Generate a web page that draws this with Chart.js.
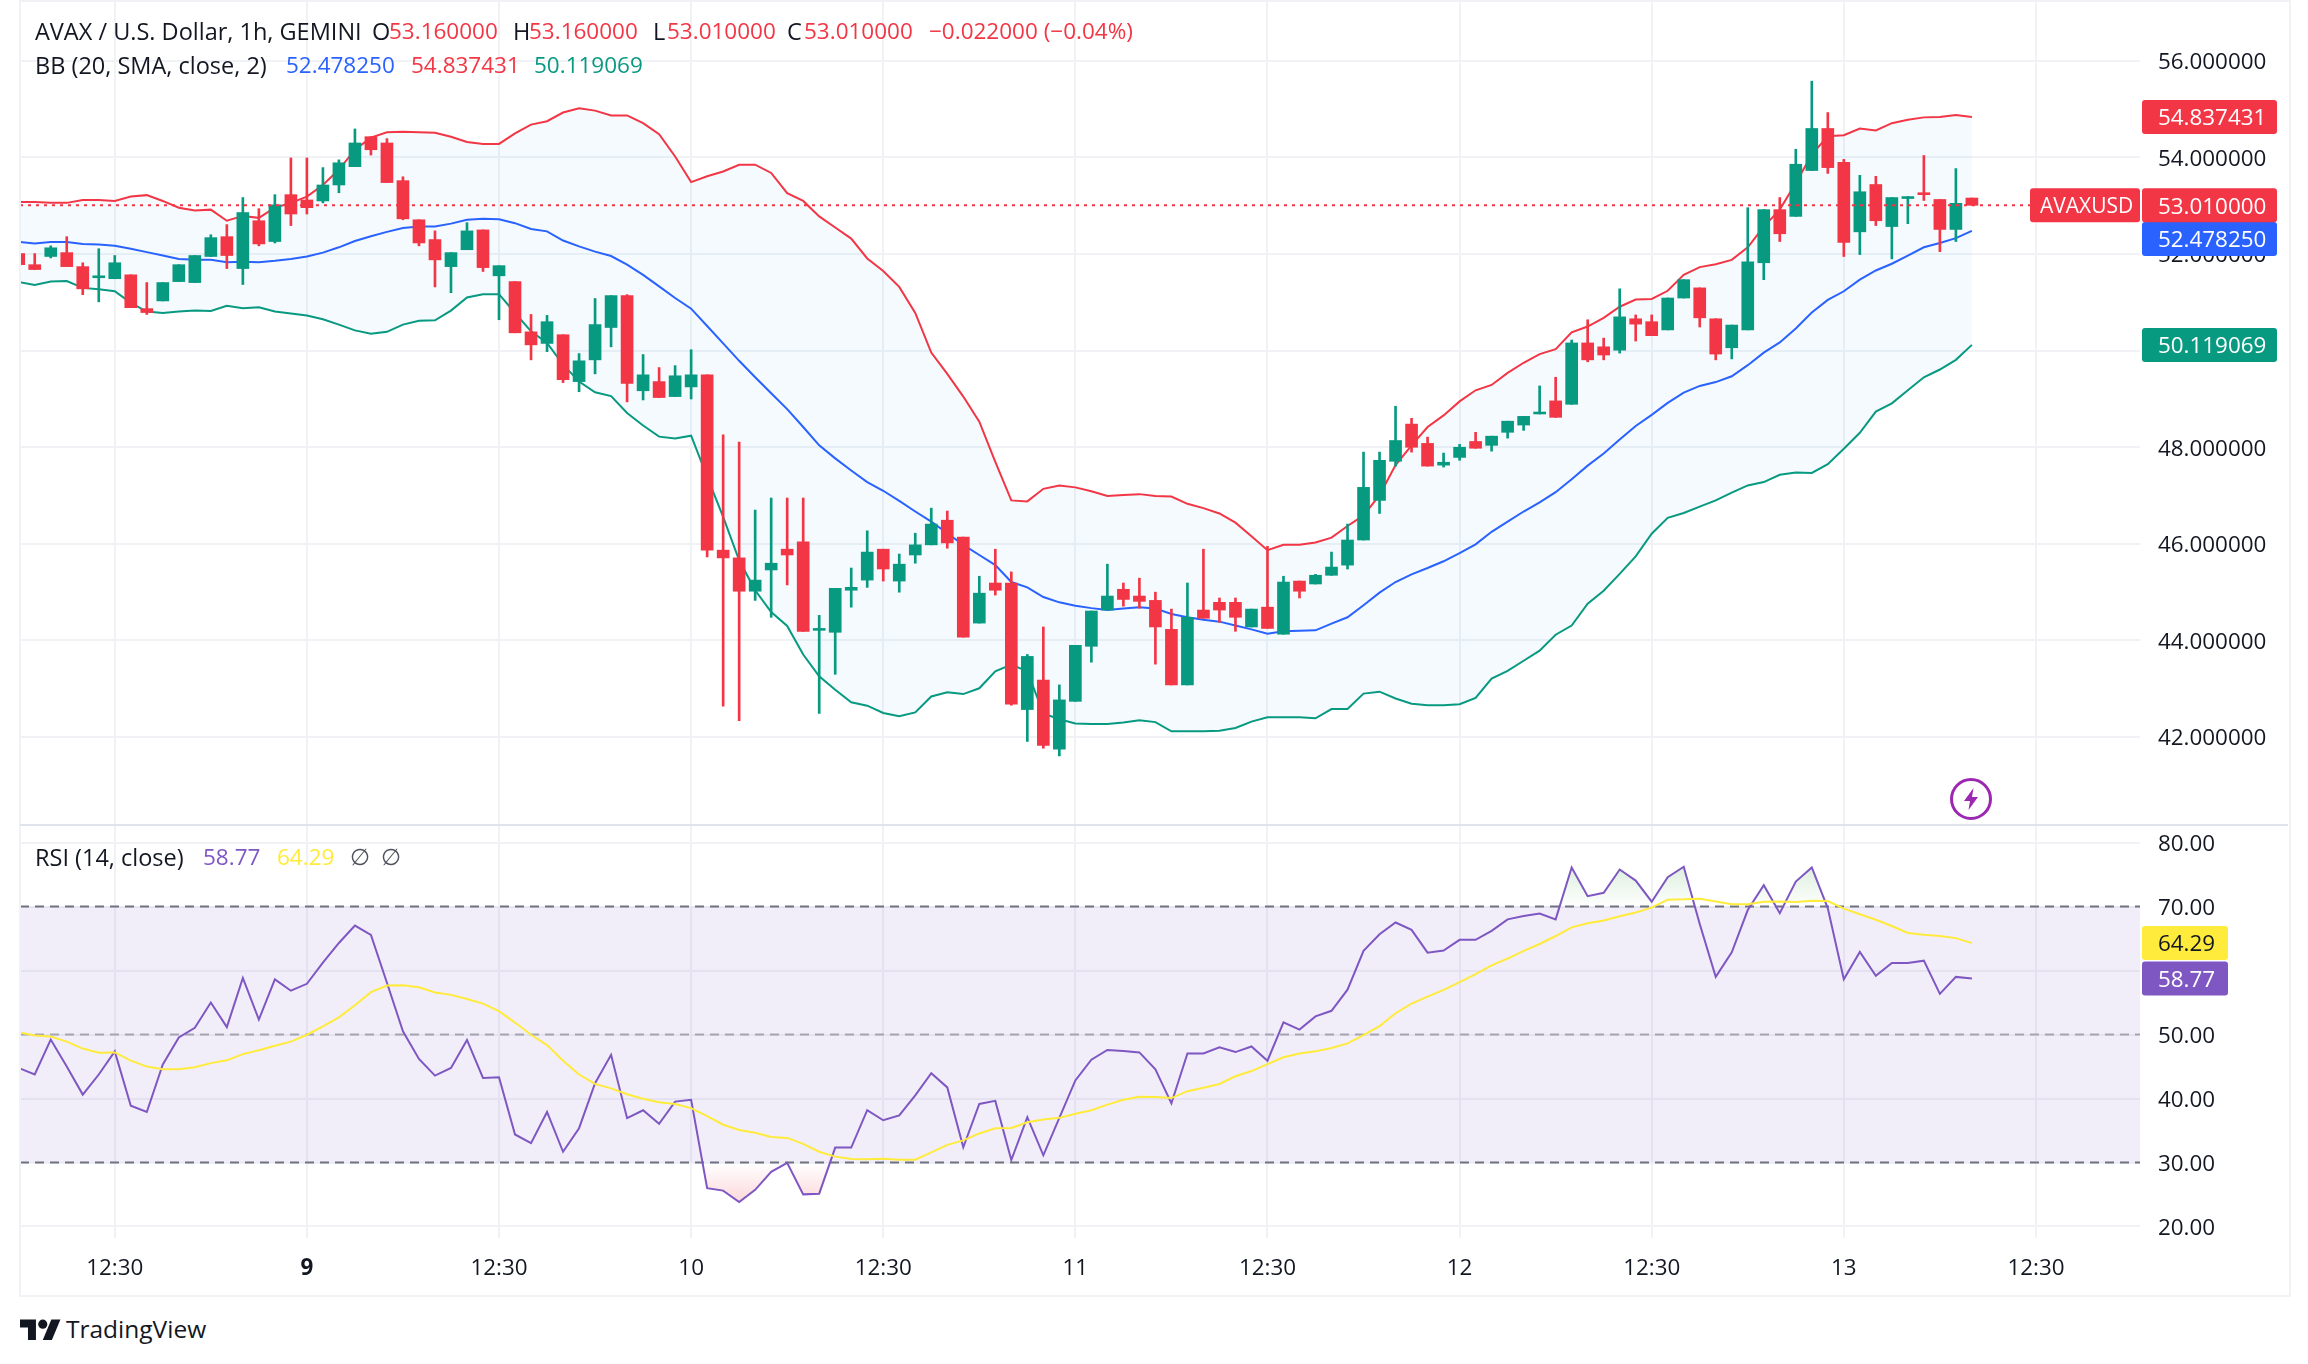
<!DOCTYPE html>
<html>
<head>
<meta charset="utf-8">
<title>AVAX / U.S. Dollar</title>
<script src="https://cdn.jsdelivr.net/npm/chart.js@4"></script>
<style>
  html, body { margin: 0; padding: 0; background: #fff; }
  #page { position: relative; width: 2308px; height: 1364px; overflow: hidden; font-family: "Open Sans", sans-serif; color: #131722; }
  canvas { position: absolute; left: 0; }
  #frame { position: absolute; left: 19px; top: 0; width: 2268px; height: 1293px; border: 2px solid #f0f2f6; pointer-events: none; }
  #divider { position: absolute; left: 20px; top: 824px; width: 2268px; height: 2px; background: #e0e3eb; }
  .t { position: absolute; font-size: 23.5px; line-height: 28px; white-space: nowrap; }
  .n { position: absolute; font-size: 22.5px; line-height: 28px; white-space: nowrap; }
</style>
</head>
<body>
<div id="page">
  <canvas id="mainChart" width="2308" height="825" style="top:0"></canvas>
  <canvas id="rsiChart" width="2308" height="470" style="top:825px"></canvas>
  <div id="frame"></div>
  <div id="divider"></div>

  <span class="t" style="left:35px;top:17px">AVAX / U.S. Dollar, 1h, GEMINI</span>
  <span class="t" style="left:372px;top:17px">O</span><span class="n" style="left:389px;top:17px;color:#f23645">53.160000</span>
  <span class="t" style="left:513px;top:17px">H</span><span class="n" style="left:529px;top:17px;color:#f23645">53.160000</span>
  <span class="t" style="left:653px;top:17px">L</span><span class="n" style="left:667px;top:17px;color:#f23645">53.010000</span>
  <span class="t" style="left:787px;top:17px">C</span><span class="n" style="left:804px;top:17px;color:#f23645">53.010000</span>
  <span class="n" style="left:929px;top:17px;color:#f23645">−0.022000 (−0.04%)</span>

  <span class="t" style="left:35px;top:51px">BB (20, SMA, close, 2)</span>
  <span class="n" style="left:286px;top:51px;color:#2962ff">52.478250</span>
  <span class="n" style="left:411px;top:51px;color:#f23645">54.837431</span>
  <span class="n" style="left:534px;top:51px;color:#089981">50.119069</span>

  <span class="t" style="left:35px;top:843px">RSI (14, close)</span>
  <span class="n" style="left:203px;top:843px;color:#7e57c2">58.77</span>
  <span class="n" style="left:277px;top:843px;color:#ffeb3b">64.29</span>
  <span class="n" style="left:350px;top:843px;color:#50535e">∅</span>
  <span class="n" style="left:381px;top:843px;color:#50535e">∅</span>

  <svg style="position:absolute;left:1949px;top:777px" width="44" height="44" viewBox="0 0 44 44">
    <circle cx="22" cy="22" r="19.5" fill="#fff" stroke="#9c27b0" stroke-width="3"/>
    <path d="M24.5 11 L15 24 H21 L19.5 33 L29 20 H23 Z" fill="#9c27b0"/>
  </svg>

  <svg style="position:absolute;left:20px;top:1315px" width="41" height="32" viewBox="0 0 36 28">
    <path d="M14 22H7V11H0V4h14v18zM28 22h-8l7.5-18h8L28 22z" fill="#131722"/>
    <circle cx="20" cy="8" r="4" fill="#131722"/>
  </svg>
  <span class="t" style="left:66px;top:1315px;font-size:24.5px">TradingView</span>
</div>

<script>
const opens = [
  52.01,51.78,51.95,52.03,51.74,51.51,51.49,51.57,50.87,51.03,
  51.43,51.41,51.95,52.36,51.70,52.69,52.26,53.23,53.12,53.10,
  53.43,53.81,54.43,54.30,53.52,52.71,52.30,51.74,52.09,52.50,
  51.55,51.43,50.39,50.15,50.33,49.36,49.81,50.48,51.14,49.17,
  49.36,49.05,49.25,49.50,45.87,45.71,45.02,45.46,45.89,46.04,
  44.21,44.17,45.04,45.25,45.89,45.23,45.77,45.98,46.49,46.14,
  44.36,45.19,45.19,42.57,43.18,41.75,42.74,43.88,44.63,45.06,
  44.92,44.83,44.23,43.08,44.63,44.79,44.79,44.28,44.69,44.13,
  45.23,45.17,45.35,45.56,46.08,46.90,47.71,48.48,48.08,47.63,
  47.79,48.12,48.04,48.31,48.46,48.69,48.96,48.89,50.16,50.08,
  50.01,50.66,50.60,50.43,51.09,51.30,50.66,50.06,50.43,51.82,
  52.92,52.78,53.73,54.60,53.90,52.46,53.44,52.57,53.15,53.27,
  53.13,52.51,53.16
];
const highs = [
  52.01,52.01,52.17,52.36,51.82,52.11,51.97,51.57,51.41,51.41,
  51.78,51.97,52.40,52.61,53.17,52.94,53.23,53.99,53.99,53.79,
  53.95,54.59,54.43,54.39,53.60,52.71,52.48,52.03,52.65,52.50,
  51.76,51.43,50.75,50.73,50.33,49.94,51.08,51.14,51.16,49.92,
  49.65,49.69,50.02,49.50,48.26,48.11,46.70,46.95,46.95,46.95,
  44.52,45.08,45.50,46.27,45.89,45.79,46.22,46.74,46.68,46.14,
  45.33,45.89,45.42,43.71,44.28,43.08,43.90,44.61,45.58,45.19,
  45.29,45.00,44.65,45.19,45.89,44.88,44.88,44.65,45.95,45.33,
  45.23,45.37,45.83,46.41,47.90,47.90,48.85,48.60,48.21,47.88,
  48.06,48.31,48.23,48.54,48.64,49.27,49.45,50.22,50.64,50.26,
  51.28,50.74,50.74,51.09,51.47,51.30,50.66,50.53,52.96,52.92,
  53.17,54.17,55.58,54.93,53.96,53.63,53.61,53.17,53.19,54.04,
  53.13,53.77,53.16
];
const lows = [
  51.78,51.68,51.92,51.74,51.16,51.01,51.49,50.89,50.75,51.03,
  51.43,51.41,51.95,51.70,51.37,52.17,52.23,52.59,52.83,53.06,
  53.27,53.81,54.05,53.48,52.71,52.17,51.32,51.20,52.09,51.64,
  50.64,50.37,49.81,49.98,49.34,49.15,49.52,50.08,48.94,48.98,
  49.03,49.05,49.00,45.73,42.64,42.34,44.83,44.48,45.15,44.19,
  42.49,43.30,44.69,45.10,45.23,45.00,45.60,45.98,45.91,44.07,
  44.36,44.94,42.66,41.91,41.77,41.61,42.74,43.55,44.63,44.71,
  44.67,43.51,43.08,43.08,44.46,44.38,44.19,44.28,44.25,44.13,
  44.88,45.17,45.35,45.48,46.08,46.63,47.61,47.90,47.61,47.59,
  47.73,47.98,47.92,48.19,48.35,48.69,48.62,48.89,49.77,49.81,
  49.95,50.20,50.31,50.43,51.09,50.49,49.81,49.83,50.43,51.47,
  52.26,52.78,53.73,53.67,51.95,51.99,52.59,51.90,52.63,53.11,
  52.05,52.26,53.01
];
const closes = [
  51.78,51.68,52.13,51.74,51.28,51.55,51.82,50.89,50.79,51.41,
  51.78,51.97,52.34,51.97,52.86,52.21,53.02,52.83,52.96,53.43,
  53.89,54.30,54.16,53.48,52.73,52.23,51.88,52.03,52.48,51.72,
  51.76,50.37,50.12,50.60,49.40,49.79,50.54,51.14,49.32,49.50,
  49.03,49.48,49.50,45.87,45.71,45.02,45.25,45.60,45.77,44.19,
  44.25,45.08,45.10,45.83,45.48,45.58,45.98,46.41,46.02,44.07,
  44.98,45.04,42.68,43.67,41.83,42.77,43.90,44.61,44.92,44.85,
  44.81,44.28,43.08,44.48,44.46,44.63,44.48,44.65,44.25,45.21,
  45.02,45.35,45.52,46.08,47.17,47.73,48.14,48.00,47.61,47.69,
  48.00,47.98,48.23,48.54,48.64,48.73,48.62,50.16,49.81,49.91,
  50.70,50.55,50.31,51.09,51.47,50.68,49.93,50.53,51.84,52.92,
  52.42,53.86,54.60,53.79,52.24,53.29,52.69,53.17,53.19,53.23,
  52.51,53.05,53.01
];
const bbUpper = [
  53.08,53.08,53.06,53.06,53.12,53.12,53.10,53.19,53.22,53.10,
  52.96,52.90,52.92,52.69,52.79,52.75,52.96,53.06,53.19,53.43,
  53.75,54.16,54.41,54.52,54.53,54.52,54.51,54.43,54.32,54.28,
  54.28,54.50,54.68,54.75,54.93,55.02,54.97,54.87,54.87,54.71,
  54.48,54.02,53.49,53.61,53.71,53.85,53.85,53.68,53.26,53.10,
  52.78,52.55,52.32,51.91,51.65,51.32,50.78,49.96,49.52,49.05,
  48.53,47.70,46.90,46.88,47.14,47.21,47.17,47.09,46.99,47.01,
  47.03,46.99,46.98,46.83,46.74,46.63,46.44,46.16,45.87,45.98,
  45.98,46.03,46.13,46.37,46.59,47.01,47.63,48.04,48.42,48.66,
  48.95,49.18,49.29,49.54,49.75,49.93,50.03,50.38,50.50,50.68,
  50.91,51.06,51.07,51.24,51.57,51.73,51.79,51.88,52.14,52.57,
  52.92,53.47,54.06,54.44,54.46,54.60,54.56,54.71,54.78,54.83,
  54.84,54.88,54.84
];
const bbBasis = [
  52.25,52.22,52.25,52.25,52.21,52.20,52.17,52.11,52.04,51.97,
  51.90,51.88,51.88,51.83,51.84,51.83,51.86,51.90,51.95,52.03,
  52.14,52.27,52.37,52.46,52.54,52.57,52.57,52.63,52.71,52.73,
  52.72,52.64,52.52,52.47,52.28,52.16,52.05,51.96,51.78,51.57,
  51.33,51.09,50.87,50.51,50.15,49.79,49.45,49.12,48.79,48.42,
  48.04,47.77,47.52,47.28,47.10,46.89,46.67,46.46,46.22,45.98,
  45.77,45.56,45.21,45.10,44.90,44.79,44.72,44.67,44.63,44.66,
  44.69,44.66,44.55,44.48,44.43,44.39,44.31,44.23,44.14,44.19,
  44.20,44.21,44.35,44.48,44.73,44.99,45.21,45.37,45.50,45.64,
  45.81,45.99,46.25,46.46,46.67,46.86,47.07,47.34,47.62,47.87,
  48.16,48.44,48.67,48.92,49.13,49.27,49.35,49.47,49.70,49.96,
  50.17,50.46,50.79,51.05,51.23,51.47,51.66,51.80,51.97,52.14,
  52.23,52.33,52.48
];
const bbLower = [
  51.42,51.36,51.43,51.44,51.30,51.27,51.23,50.99,50.81,50.78,
  50.81,50.83,50.82,50.93,50.88,50.90,50.81,50.77,50.73,50.65,
  50.54,50.42,50.35,50.39,50.54,50.62,50.63,50.83,51.10,51.17,
  51.17,50.78,50.40,50.16,49.71,49.36,49.14,49.06,48.71,48.45,
  48.22,48.18,48.24,47.39,46.56,45.66,45.04,44.59,44.30,43.71,
  43.26,42.98,42.72,42.65,42.50,42.43,42.51,42.84,42.93,42.89,
  43.01,43.36,43.50,43.36,42.49,42.37,42.28,42.27,42.27,42.30,
  42.35,42.31,42.12,42.12,42.12,42.13,42.19,42.32,42.41,42.41,
  42.41,42.39,42.58,42.58,42.90,42.94,42.80,42.69,42.66,42.66,
  42.68,42.81,43.21,43.37,43.58,43.79,44.12,44.31,44.76,45.03,
  45.38,45.74,46.21,46.54,46.64,46.77,46.90,47.06,47.21,47.28,
  47.43,47.48,47.47,47.65,47.97,48.30,48.74,48.91,49.18,49.45,
  49.61,49.81,50.12
];
const rsiValues = [
  44.77,43.75,49.21,44.99,40.61,43.75,47.37,38.88,37.90,45.32,
  49.54,51.05,55.00,51.16,58.85,52.35,58.63,56.85,57.93,61.23,
  64.31,67.02,65.56,58.09,50.51,46.18,43.58,44.77,49.16,43.21,
  43.31,34.38,33.03,37.90,31.68,35.36,42.39,46.83,36.93,38.17,
  36.06,39.52,39.80,25.99,25.61,23.83,25.72,28.54,29.94,25.02,
  25.13,32.33,32.33,38.17,36.60,37.36,40.50,43.96,41.74,32.38,
  39.15,39.63,30.38,37.09,31.13,36.98,42.83,46.07,47.59,47.43,
  47.21,44.56,39.25,47.05,47.05,48.02,47.26,48.13,45.91,51.92,
  50.78,52.84,53.71,57.01,63.07,65.67,67.51,66.37,62.80,63.12,
  64.80,64.80,66.21,68.00,68.54,68.92,68.00,76.11,71.62,72.16,
  75.79,74.06,70.76,74.60,76.22,67.29,59.01,62.85,69.46,73.35,
  68.97,73.90,76.11,69.73,58.63,62.91,59.17,61.18,61.18,61.55,
  56.36,59.01,58.77
];
const rsiMa = [
  50.35,49.86,49.70,48.89,47.81,47.16,47.21,45.91,44.99,44.56,
  44.56,44.88,45.53,45.97,46.94,47.54,48.24,48.89,49.97,51.27,
  52.68,54.57,56.63,57.66,57.71,57.39,56.57,56.20,55.55,54.84,
  53.65,51.87,49.97,48.35,45.91,43.75,42.28,41.58,40.66,39.96,
  39.42,39.15,38.50,37.25,35.90,35.09,34.65,34.00,33.84,32.92,
  31.68,30.92,30.54,30.49,30.59,30.43,30.43,31.57,32.76,33.46,
  34.54,35.36,35.41,36.28,36.71,36.98,37.63,38.17,39.04,39.80,
  40.28,40.23,40.07,41.15,41.69,42.28,43.48,44.29,45.37,46.45,
  47.05,47.37,47.91,48.62,49.92,51.32,53.33,54.84,55.93,56.99,
  58.20,59.44,60.80,61.88,63.07,64.15,65.40,66.75,67.40,67.83,
  68.48,69.08,69.84,71.08,71.13,71.24,70.81,70.38,70.38,70.76,
  70.81,70.70,70.92,70.86,69.67,68.81,67.94,66.97,65.88,65.61,
  65.40,65.07,64.29
];

const priceTicks = [42, 44, 46, 48, 50, 52, 54, 56];
const rsiTicks = [20, 30, 40, 50, 60, 70, 80];
const timeTicks = [6, 18, 30, 42, 54, 66, 78, 90, 102, 114, 126];
const timeLabels = ['12:30', '9', '12:30', '10', '12:30', '11', '12:30', '12', '12:30', '13', '12:30'];

const lastPrice = 53.01;
const lastBasis = 52.47825;
const lastUpper = 54.837431;
const lastLower = 50.119069;
const lastRsi = 58.77;
const lastRsiMa = 64.29;

const UP = '#089981';
const DOWN = '#f23645';
const BLUE = '#2962ff';
const PURPLE = '#7e57c2';
const YELLOW = '#ffeb3b';
const GRID = '#f0f2f6';
const TEXT = '#131722';
const FONT = '"Open Sans", sans-serif';
const AXIS_PX = 22.4;

Chart.defaults.animation = false;
Chart.defaults.events = [];
Chart.defaults.devicePixelRatio = 1;
Chart.defaults.font.family = FONT;
Chart.defaults.plugins.legend.display = false;
Chart.defaults.plugins.tooltip.enabled = false;

const indexes = closes.map((c, i) => i);
const candleColors = closes.map((c, i) => c >= opens[i] ? UP : DOWN);

function noScalePadding(s) {
  s.paddingLeft = s.paddingRight = s.paddingTop = s.paddingBottom = 0;
}

function xAxis(showLabels) {
  return {
    type: 'linear',
    offset: false,
    min: 0.08,
    max: 132.5,
    afterBuildTicks: s => { s.ticks = timeTicks.map(v => ({ value: v })); },
    afterFit: s => { s.height = showLabels ? 57 : 0; noScalePadding(s); },
    border: { display: false },
    grid: { color: GRID, lineWidth: 2, drawTicks: false, offset: false },
    ticks: {
      display: showLabels,
      autoSkip: false,
      maxRotation: 0,
      padding: 17,
      color: TEXT,
      font: ctx => ({ size: AXIS_PX, weight: timeLabels[ctx.index] === '9' ? 'bold' : 'normal' }),
      callback: (v, i) => timeLabels[i]
    }
  };
}

function yAxis(min, max, list, digits) {
  return {
    position: 'right',
    min: min,
    max: max,
    afterBuildTicks: s => { s.ticks = list.map(v => ({ value: v })); },
    afterFit: s => { s.width = 148; noScalePadding(s); },
    border: { display: false },
    grid: { color: GRID, lineWidth: 2, drawTicks: false },
    ticks: { padding: 18, labelOffset: 2, color: TEXT, font: { size: AXIS_PX }, callback: v => v.toFixed(digits) }
  };
}

function drawTag(chart, x, w, yCenter, bg, fg, label, textX, px) {
  const c = chart.ctx;
  c.save();
  c.fillStyle = bg;
  c.beginPath();
  c.roundRect(x, yCenter - 17, w, 34, 3);
  c.fill();
  c.fillStyle = fg;
  c.font = (px || AXIS_PX) + 'px ' + FONT;
  c.textBaseline = 'middle';
  c.textAlign = 'left';
  c.fillText(label, x + (textX || 16), yCenter + 2);
  c.restore();
}

const mainOverlay = {
  id: 'mainOverlay',
  afterDatasetsDraw(chart) {
    const c = chart.ctx, y = chart.scales.y.getPixelForValue(lastPrice);
    c.save();
    c.strokeStyle = DOWN;
    c.lineWidth = 2;
    c.setLineDash([3, 5]);
    c.beginPath();
    c.moveTo(chart.chartArea.left, y);
    c.lineTo(2030, y);
    c.stroke();
    c.restore();
  },
  afterDraw(chart) {
    const s = chart.scales.y, x = 2142, w = 135;
    drawTag(chart, x, w, s.getPixelForValue(lastUpper), DOWN, '#fff', lastUpper.toFixed(6));
    drawTag(chart, x, w, s.getPixelForValue(lastLower), UP, '#fff', lastLower.toFixed(6));
    drawTag(chart, x, w, s.getPixelForValue(lastBasis) + 8, BLUE, '#fff', lastBasis.toFixed(6));
    drawTag(chart, x, w, s.getPixelForValue(lastPrice), DOWN, '#fff', lastPrice.toFixed(6));
    drawTag(chart, 2030, 110, s.getPixelForValue(lastPrice), DOWN, '#fff', 'AVAXUSD', 10, 21);
  }
};

new Chart(document.getElementById('mainChart'), {
  data: {
    datasets: [
      {
        type: 'line', order: 5, data: indexes.map(i => ({ x: i, y: bbUpper[i] })),
        borderColor: DOWN, borderWidth: 2, pointRadius: 0, tension: 0,
        fill: { target: 2, above: 'rgba(33,150,243,0.05)', below: 'rgba(33,150,243,0.05)' }
      },
      {
        type: 'line', order: 4, data: indexes.map(i => ({ x: i, y: bbBasis[i] })),
        borderColor: BLUE, borderWidth: 2, pointRadius: 0, tension: 0
      },
      {
        type: 'line', order: 3, data: indexes.map(i => ({ x: i, y: bbLower[i] })),
        borderColor: UP, borderWidth: 2, pointRadius: 0, tension: 0
      },
      {
        type: 'bar', order: 2, grouped: false, barThickness: 2, borderSkipped: false,
        data: indexes.map(i => ({ x: i, y: [lows[i], highs[i]] })),
        backgroundColor: candleColors
      },
      {
        type: 'bar', order: 1, grouped: false, barThickness: 12, borderSkipped: false,
        data: indexes.map(i => ({ x: i, y: [opens[i], closes[i]] })),
        backgroundColor: candleColors
      }
    ]
  },
  options: {
    responsive: false,
    layout: { padding: { left: 20, right: 20, top: 0, bottom: 0 } },
    scales: { x: xAxis(false), y: yAxis(40.18, 57.26, priceTicks, 6) }
  },
  plugins: [mainOverlay]
});

const rsiOverlay = {
  id: 'rsiOverlay',
  beforeDatasetsDraw(chart) {
    const c = chart.ctx, s = chart.scales.y, a = chart.chartArea;
    const top = s.getPixelForValue(70), mid = s.getPixelForValue(50), bottom = s.getPixelForValue(30);
    c.save();
    c.fillStyle = 'rgba(126,87,194,0.1)';
    c.fillRect(a.left, top, a.right - a.left, bottom - top);
    c.lineWidth = 2;
    c.setLineDash([9, 6]);
    [[top, '#6f7280'], [mid, 'rgba(120,123,134,0.6)'], [bottom, '#6f7280']].forEach(l => {
      c.strokeStyle = l[1];
      c.beginPath();
      c.moveTo(a.left, l[0]);
      c.lineTo(a.right, l[0]);
      c.stroke();
    });
    c.restore();
  },
  afterDraw(chart) {
    const s = chart.scales.y;
    drawTag(chart, 2142, 86, s.getPixelForValue(lastRsiMa), YELLOW, TEXT, lastRsiMa.toFixed(2));
    drawTag(chart, 2142, 86, s.getPixelForValue(lastRsi), PURPLE, '#fff', lastRsi.toFixed(2));
  }
};

const rsiCanvas = document.getElementById('rsiChart');
const rsiCtx = rsiCanvas.getContext('2d');
const overboughtFill = rsiCtx.createLinearGradient(0, 40, 0, 82);
overboughtFill.addColorStop(0, 'rgba(76,175,80,0.2)');
overboughtFill.addColorStop(1, 'rgba(76,175,80,0)');
const oversoldFill = rsiCtx.createLinearGradient(0, 338, 0, 378);
oversoldFill.addColorStop(0, 'rgba(242,54,69,0)');
oversoldFill.addColorStop(1, 'rgba(242,54,69,0.2)');

new Chart(rsiCanvas, {
  data: {
    datasets: [
      {
        type: 'line', order: 5, data: indexes.map(i => ({ x: i, y: rsiValues[i] })),
        borderWidth: 0, pointRadius: 0, tension: 0,
        fill: { target: { value: 70 }, above: overboughtFill, below: 'rgba(0,0,0,0)' }
      },
      {
        type: 'line', order: 4, data: indexes.map(i => ({ x: i, y: rsiValues[i] })),
        borderWidth: 0, pointRadius: 0, tension: 0,
        fill: { target: { value: 30 }, above: 'rgba(0,0,0,0)', below: oversoldFill }
      },
      {
        type: 'line', order: 3, data: indexes.map(i => ({ x: i, y: rsiValues[i] })),
        borderColor: PURPLE, borderWidth: 2, pointRadius: 0, tension: 0
      },
      {
        type: 'line', order: 2, data: indexes.map(i => ({ x: i, y: rsiMa[i] })),
        borderColor: YELLOW, borderWidth: 2, pointRadius: 0, tension: 0
      }
    ]
  },
  options: {
    responsive: false,
    layout: { padding: { left: 20, right: 20, top: 0, bottom: 0 } },
    scales: { x: xAxis(true), y: yAxis(18.2, 82.75, rsiTicks, 2) }
  },
  plugins: [rsiOverlay]
});
</script>
</body>
</html>
